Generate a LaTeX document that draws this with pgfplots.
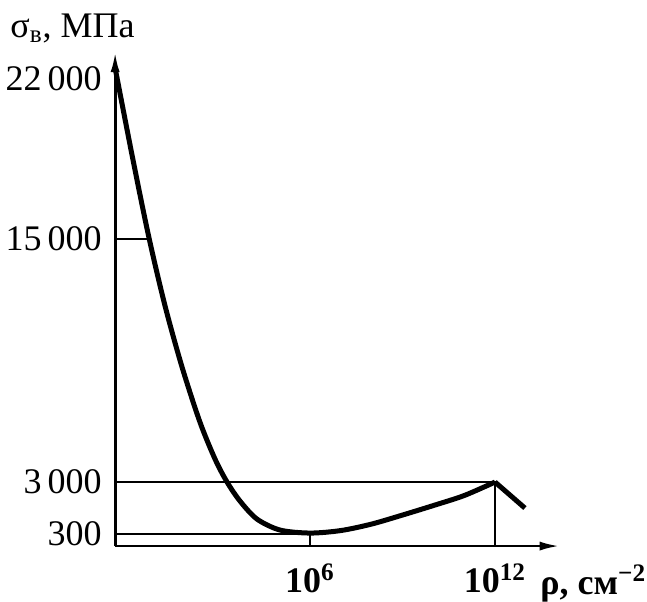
\documentclass[border=0pt]{standalone}
\usepackage{pgfplots}
\pgfplotsset{compat=1.18}
\usepackage{fontspec}
\setmainfont{Liberation Serif}
\usetikzlibrary{arrows.meta}

\begin{document}
\begin{tikzpicture}
  \begin{axis}[
    x=15.415pt, y=0.5pt,
    xmin=-0.32, xmax=14.1,
    ymin=0, ymax=494,
    axis lines=left,
    axis line style={line width=1.4pt, -{Latex[length=10pt,width=4.5pt]}},
    clip=false,
    major tick length=0pt,
    xtick={6,12},
    xticklabels={\textbf{10\textsuperscript{6}}, \textbf{10\textsuperscript{12}}},
    ytick={12,64,307,467},
    yticklabels={300, 3\,000, 15\,000, 22\,000},
    tick label style={font=\fontsize{18}{18}\selectfont},
    xticklabel style={anchor=north, inner sep=0pt, yshift=-8.5pt},
    yticklabel style={anchor=east, inner sep=0pt, xshift=-6.5pt},
  ]
    % reference lines
    \addplot[line width=0.75pt] coordinates {(-0.32,307) (0.78,307)};
    \addplot[line width=0.75pt] coordinates {(-0.32,12) (6,12) (6,0)};
    \addplot[line width=0.75pt] coordinates {(-0.32,64) (12,64) (12,0)};

    % strength vs dislocation density
    \addplot[line width=2.5pt, smooth, tension=0.5, line join=round] coordinates {
      (-0.32,478) (0.26,386) (0.78,308) (1.30,240) (1.85,179) (2.43,124)
      (2.92,87) (3.31,64) (3.73,45) (4.28,27) (5.03,16) (6.0,13)
      (7.0,15.5) (8.0,22) (9.0,31) (10.0,40.5) (11.0,50.5) (12,64)
    };
    \addplot[line width=2.5pt, line join=round] coordinates {(12,64) (12.97,38)};

    \node[anchor=base west, inner sep=0pt, font=\fontsize{18}{18}\selectfont]
      at (axis cs:-3.73,509) {σ\textsubscript{в}, МПа};
    \node[anchor=base west, inner sep=0pt, font=\fontsize{18}{18}\selectfont\bfseries]
      at (axis cs:13.46,-48) {ρ, см\textsuperscript{−2}};

    \useasboundingbox (axis cs:-4.054,-50) rectangle (axis cs:16.93,546);
  \end{axis}
\end{tikzpicture}
\end{document}
